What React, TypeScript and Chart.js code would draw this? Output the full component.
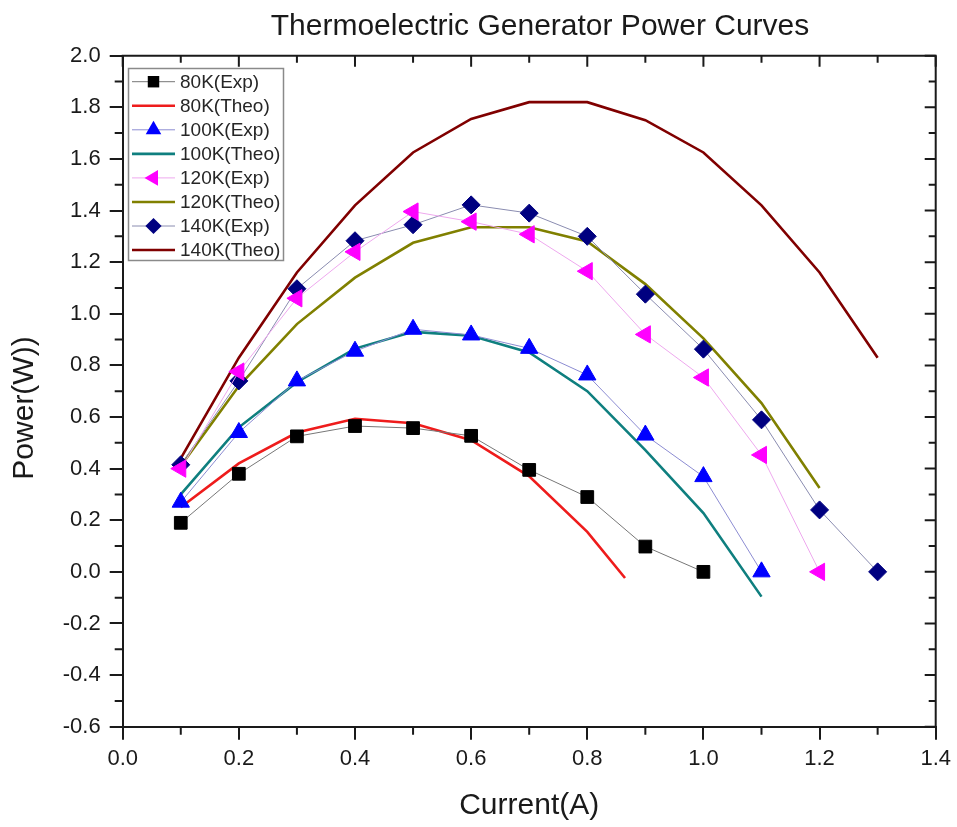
import React, { useEffect, useRef } from 'react';
import { Chart, registerables } from 'chart.js';

Chart.register(...registerables);

// ---------- data ----------
const currentExp80 = [0.1, 0.2, 0.3, 0.4, 0.5, 0.6, 0.7, 0.8, 0.9, 1.0];
const powerExp80 = [0.19, 0.38, 0.525, 0.565, 0.557, 0.527, 0.395, 0.29, 0.098, 0.0];
const currentTheo80 = [0.1, 0.2, 0.3, 0.4, 0.5, 0.6, 0.7, 0.8, 0.865];
const powerTheo80 = [0.25, 0.42, 0.54, 0.593, 0.576, 0.51, 0.37, 0.155, -0.024];

const currentExp100 = [0.1, 0.2, 0.3, 0.4, 0.5, 0.6, 0.7, 0.8, 0.9, 1.0, 1.1];
const powerExp100 = [0.27, 0.54, 0.74, 0.855, 0.94, 0.918, 0.866, 0.763, 0.53, 0.369, 0.0];
const currentTheo100 = [0.1, 0.2, 0.3, 0.4, 0.5, 0.6, 0.7, 0.8, 0.9, 1.0, 1.1];
const powerTheo100 = [0.3, 0.56, 0.735, 0.865, 0.93, 0.915, 0.85, 0.7, 0.472, 0.228, -0.096];

const currentExp120 = [0.1, 0.2, 0.3, 0.4, 0.5, 0.6, 0.7, 0.8, 0.9, 1.0, 1.1, 1.2];
const powerExp120 = [0.4, 0.776, 1.06, 1.24, 1.396, 1.357, 1.308, 1.165, 0.92, 0.753, 0.453, 0.0];
const currentTheo120 = [0.1, 0.2, 0.3, 0.4, 0.5, 0.6, 0.7, 0.8, 0.9, 1.0, 1.1, 1.2];
const powerTheo120 = [0.41, 0.72, 0.96, 1.14, 1.275, 1.335, 1.335, 1.28, 1.115, 0.905, 0.654, 0.325];

const currentExp140 = [0.1, 0.2, 0.3, 0.4, 0.5, 0.6, 0.7, 0.8, 0.9, 1.0, 1.1, 1.2, 1.3];
const powerExp140 = [0.415, 0.74, 1.097, 1.283, 1.345, 1.422, 1.39, 1.3, 1.076, 0.863, 0.589, 0.24, 0.0];
const currentTheo140 = [0.1, 0.2, 0.3, 0.4, 0.5, 0.6, 0.7, 0.8, 0.9, 1.0, 1.1, 1.2, 1.3];
const powerTheo140 = [0.44, 0.83, 1.16, 1.42, 1.625, 1.755, 1.82, 1.82, 1.75, 1.625, 1.42, 1.16, 0.83];

const seriesLabels = [
  '80K(Exp)', '80K(Theo)', '100K(Exp)', '100K(Theo)',
  '120K(Exp)', '120K(Theo)', '140K(Exp)', '140K(Theo)',
];

const titleText = 'Thermoelectric Generator Power Curves';
const xTitle = 'Current(A)';
const yTitle = 'Power(W))';

const X_MIN = 0;
const X_MAX = 1.4;
const Y_MIN = -0.6;
const Y_MAX = 2.0;
const STEP = 0.2;

// ---------- styling ----------
const FONT = 'Arial, "Liberation Sans", sans-serif';
const AXIS = '#1a1a1a';

const pts = (xs: number[], ys: number[]) => xs.map((x, i) => ({ x, y: ys[i] }));

function expSet(label: string, xs: number[], ys: number[], marker: string, lineColor: string, style: string, radius: number, rotation = 0) {
  return {
    label,
    data: pts(xs, ys),
    borderColor: lineColor,
    borderWidth: 1,
    backgroundColor: marker,
    pointStyle: style,
    pointRotation: rotation,
    pointRadius: radius,
    pointBackgroundColor: marker,
    pointBorderColor: marker,
    pointBorderWidth: 1,
    tension: 0,
    order: 0,
    _marker: marker,
  } as any;
}

function theoSet(label: string, xs: number[], ys: number[], color: string) {
  return {
    label,
    data: pts(xs, ys),
    borderColor: color,
    borderWidth: 2.6,
    pointRadius: 0,
    tension: 0,
    order: 1,
    _marker: null,
  } as any;
}

function drawMarker(ctx: CanvasRenderingContext2D, style: string, rotation: number, x: number, y: number, r: number) {
  ctx.beginPath();
  if (style === 'rect') {
    const s = Math.SQRT1_2 * r;
    ctx.rect(x - s, y - s, 2 * s, 2 * s);
  } else if (style === 'rectRot') {
    ctx.moveTo(x, y - r);
    ctx.lineTo(x + r, y);
    ctx.lineTo(x, y + r);
    ctx.lineTo(x - r, y);
    ctx.closePath();
  } else if (style === 'triangle') {
    let rad = (rotation * Math.PI) / 180;
    ctx.moveTo(x + Math.sin(rad) * r, y - Math.cos(rad) * r);
    rad += (2 * Math.PI) / 3;
    ctx.lineTo(x + Math.sin(rad) * r, y - Math.cos(rad) * r);
    rad += (2 * Math.PI) / 3;
    ctx.lineTo(x + Math.sin(rad) * r, y - Math.cos(rad) * r);
    ctx.closePath();
  }
  ctx.fill();
}

const framePlugin = {
  id: 'frame',
  afterDraw(chart: any) {
    const { ctx, chartArea } = chart;
    const { left, right, top, bottom } = chartArea;
    const xs = chart.scales.x;
    const ys = chart.scales.y;
    ctx.save();
    ctx.strokeStyle = AXIS;
    ctx.lineWidth = 2;
    ctx.lineCap = 'square';
    ctx.beginPath();
    ctx.moveTo(left, top);
    ctx.lineTo(right, top);
    ctx.lineTo(right, bottom);
    ctx.stroke();
    ctx.lineCap = 'butt';

    const xt = xs.ticks.map((t: any) => t.value);
    const yt = ys.ticks.map((t: any) => t.value);
    ctx.beginPath();
    xt.forEach((v: number) => {
      const p = xs.getPixelForValue(v);
      ctx.moveTo(p, top);
      ctx.lineTo(p, top + 11);
    });
    for (let i = 0; i < xt.length - 1; i++) {
      const p = xs.getPixelForValue((xt[i] + xt[i + 1]) / 2);
      ctx.moveTo(p, bottom);
      ctx.lineTo(p, bottom + 8);
      ctx.moveTo(p, top);
      ctx.lineTo(p, top + 7);
    }
    yt.forEach((v: number) => {
      const p = ys.getPixelForValue(v);
      ctx.moveTo(right, p);
      ctx.lineTo(right - 11, p);
    });
    for (let i = 0; i < yt.length - 1; i++) {
      const p = ys.getPixelForValue((yt[i] + yt[i + 1]) / 2);
      ctx.moveTo(left, p);
      ctx.lineTo(left - 8, p);
      ctx.moveTo(right, p);
      ctx.lineTo(right - 7, p);
    }
    ctx.stroke();

    // title
    ctx.fillStyle = '#1a1a1a';
    ctx.font = `30px ${FONT}`;
    ctx.textAlign = 'center';
    ctx.textBaseline = 'alphabetic';
    ctx.fillText(titleText, 540, 35);

    // axis titles
    ctx.font = `30px ${FONT}`;
    ctx.textBaseline = 'middle';
    ctx.fillText(xTitle, (left + right) / 2, 806);
    ctx.save();
    ctx.translate(25, 408);
    ctx.rotate(-Math.PI / 2);
    ctx.fillText(yTitle, 0, 0);
    ctx.restore();

    // legend
    const bx = 128.5, by = 68.5, bw = 155, bh = 192;
    ctx.fillStyle = '#ffffff';
    ctx.fillRect(bx, by, bw, bh);
    ctx.strokeStyle = '#8a8a8a';
    ctx.lineWidth = 1.5;
    ctx.strokeRect(bx, by, bw, bh);
    chart.data.datasets.forEach((ds: any, i: number) => {
      const cy = 81.7 + i * 24.05;
      ctx.strokeStyle = ds.borderColor;
      ctx.lineWidth = ds.borderWidth;
      ctx.beginPath();
      ctx.moveTo(132, cy);
      ctx.lineTo(175, cy);
      ctx.stroke();
      if (ds._marker) {
        ctx.fillStyle = ds._marker;
        drawMarker(ctx, ds.pointStyle, ds.pointRotation || 0, 153.5, cy, ds.pointRadius * 0.9);
      }
      ctx.fillStyle = '#262626';
      ctx.font = `19px ${FONT}`;
      ctx.textAlign = 'left';
      ctx.textBaseline = 'middle';
      ctx.fillText(ds.label, 180, cy + 1);
    });
    ctx.restore();
  },
};

export default function App() {
  const ref = useRef<HTMLCanvasElement | null>(null);

  useEffect(() => {
    if (!ref.current) return;
    const datasets = [
      expSet(seriesLabels[0], currentExp80, powerExp80, '#000000', '#777777', 'rect', 9),
      theoSet(seriesLabels[1], currentTheo80, powerTheo80, '#ee1c1c'),
      expSet(seriesLabels[2], currentExp100, powerExp100, '#0000ff', '#8c8cd2', 'triangle', 10),
      theoSet(seriesLabels[3], currentTheo100, powerTheo100, '#0f7f7f'),
      expSet(seriesLabels[4], currentExp120, powerExp120, '#ff00ff', '#eea8ee', 'triangle', 10, -90),
      theoSet(seriesLabels[5], currentTheo120, powerTheo120, '#808000'),
      expSet(seriesLabels[6], currentExp140, powerExp140, '#000080', '#8a8cb0', 'rectRot', 9),
      theoSet(seriesLabels[7], currentTheo140, powerTheo140, '#800000'),
    ];

    const tickFont = { size: 22, family: FONT };
    const chart = new Chart(ref.current, {
      type: 'line',
      data: { datasets },
      plugins: [framePlugin],
      options: {
        animation: false,
        responsive: false,
        devicePixelRatio: 1,
        layout: { padding: { top: 55.7, right: 20.3, bottom: 0, left: 0 } },
        plugins: {
          legend: { display: false },
          title: { display: false },
          tooltip: { enabled: false },
        },
        scales: {
          x: {
            type: 'linear',
            min: X_MIN,
            max: X_MAX,
            ticks: {
              stepSize: STEP,
              autoSkip: false,
              maxRotation: 0,
              padding: 6,
              color: '#1a1a1a',
              font: tickFont,
              callback: (v: any) => Number(v).toFixed(1),
            },
            grid: {
              display: true,
              drawOnChartArea: false,
              drawTicks: true,
              tickLength: 13,
              color: AXIS,
              lineWidth: 2,
            },
            border: { display: true, color: AXIS, width: 2 },
            afterFit: (s: any) => { s.height = 100.3; },
          },
          y: {
            type: 'linear',
            min: Y_MIN,
            max: Y_MAX,
            ticks: {
              stepSize: STEP,
              autoSkip: false,
              padding: 9,
              color: '#1a1a1a',
              font: tickFont,
              callback: (v: any) => Number(v).toFixed(1),
            },
            grid: {
              display: true,
              drawOnChartArea: false,
              drawTicks: true,
              tickLength: 13,
              color: AXIS,
              lineWidth: 2,
            },
            border: { display: true, color: AXIS, width: 2 },
            afterFit: (s: any) => { s.width = 122.7; },
          },
        },
      } as any,
    });
    return () => chart.destroy();
  }, []);

  return (
    <div style={{ position: 'absolute', left: 0, top: 0, width: 957, height: 827, background: '#fff' }}>
      <canvas ref={ref} width={957} height={827} style={{ width: 957, height: 827, display: 'block' }} />
    </div>
  );
}
